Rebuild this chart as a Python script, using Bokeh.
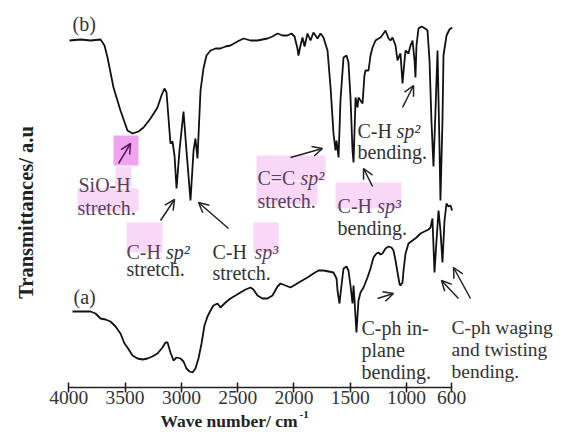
import math
from bokeh.plotting import figure
from bokeh.models import Range1d, LinearAxis, FixedTicker, Label, Arrow, OpenHead
from bokeh.embed import file_html
from bokeh.resources import INLINE

# ---- spectrum (b) : wavenumber (cm-1) and transmittance (a.u.)
b_wn = [3994, 3896, 3807, 3718, 3683, 3656, 3603, 3541, 3479, 3434,
        3381, 3336, 3274, 3212, 3177, 3150, 3132, 3097, 3079, 3061,
        3043, 3017, 2981, 2955, 2919, 2892, 2875, 2857, 2830, 2804,
        2777, 2741, 2697, 2653, 2608, 2564, 2502, 2448, 2386, 2324,
        2280, 2235, 2191, 2146, 2102, 2058, 2022, 1995, 1969, 1960,
        1942, 1924, 1906, 1880, 1853, 1827, 1791, 1764, 1738, 1702,
        1675, 1649, 1631, 1622, 1604, 1587, 1560, 1533, 1516, 1498,
        1480, 1471, 1462, 1453, 1436, 1427, 1409, 1391, 1374, 1365,
        1338, 1320, 1302, 1276, 1249, 1231, 1205, 1187, 1160, 1143,
        1125, 1098, 1080, 1063, 1054, 1036, 1018, 1009, 983, 965,
        947, 929, 921, 912, 894, 867, 850, 823, 814, 796,
        779, 761, 743, 725, 716, 707, 699, 681, 672, 645,
        619, 595]
b_t = [347, 348, 347, 348, 342, 330, 300, 277, 257, 254,
       256, 260, 269, 280, 292, 299, 295, 244, 246, 232,
       199, 237, 276, 237, 187, 237, 249, 229, 297, 319,
       332, 337, 339, 339, 341, 342, 346, 349, 347, 347,
       348, 349, 351, 354, 352, 352, 354, 351, 339, 332,
       342, 350, 341, 354, 347, 355, 349, 354, 350, 337,
       300, 254, 237, 247, 230, 287, 330, 332, 325, 290,
       237, 225, 257, 290, 280, 290, 287, 284, 312, 317,
       317, 332, 340, 347, 349, 350, 354, 357, 349, 347,
       350, 342, 327, 332, 334, 304, 327, 337, 334, 342,
       347, 327, 310, 342, 359, 361, 360, 358, 357, 327,
       267, 221, 277, 337, 287, 237, 187, 267, 332, 352,
       358, 360]

# ---- spectrum (a)
a_wn = [3967, 3896, 3807, 3763, 3718, 3674, 3630, 3585, 3541, 3505,
        3479, 3434, 3390, 3345, 3301, 3257, 3212, 3168, 3141, 3123,
        3097, 3070, 3043, 3008, 2981, 2955, 2928, 2901, 2875, 2848,
        2821, 2795, 2768, 2741, 2715, 2679, 2653, 2608, 2564, 2519,
        2475, 2430, 2386, 2360, 2324, 2280, 2235, 2191, 2146, 2120,
        2075, 2031, 1986, 1942, 1880, 1827, 1782, 1738, 1693, 1649,
        1622, 1613, 1596, 1578, 1560, 1533, 1516, 1498, 1480, 1471,
        1462, 1445, 1427, 1409, 1382, 1347, 1320, 1294, 1267, 1249,
        1231, 1214, 1187, 1160, 1134, 1116, 1098, 1080, 1063, 1054,
        1036, 1027, 1009, 983, 947, 912, 876, 841, 805, 787,
        770, 752, 734, 716, 699, 681, 663, 645, 628, 610, 595]
a_t = [76, 76, 76, 74, 69, 68, 66, 61, 54, 44,
       40, 32, 29, 28, 29, 31, 34, 40, 45, 45,
       35, 27, 30, 29, 26, 19, 16, 15, 19, 29,
       44, 62, 71, 77, 82, 84, 80, 85, 89, 92,
       95, 98, 100, 98, 92, 89, 89, 92, 101, 104,
       102, 100, 103, 106, 110, 114, 117, 117, 116, 115,
       109, 97, 84, 102, 119, 121, 117, 102, 84, 102,
       87, 55, 87, 95, 100, 110, 119, 130, 134, 135,
       133, 134, 139, 141, 140, 137, 127, 115, 104, 102,
       105, 117, 134, 144, 147, 150, 154, 156, 158, 160,
       169, 115, 147, 177, 157, 125, 167, 184, 181, 182, 177]

tick_values = [4000, 3500, 3000, 2500, 2000, 1500, 1000, 600]

# ---- annotations (wavenumber, a.u.)
FONT = "Liberation Serif"
TXT = "#333333"
HL_TXT = "#5a3f5c"
PINK = "#f8d8f6"
PINK2 = "#f0a3ee"

boxes = [  # left_wn, right_wn, bottom, top, color
    (3603, 3381, 222, 252, PINK2),
    (3585, 3443, 201, 221, PINK),
    (3923, 3381, 176, 199, PINK),
    (3488, 3168, 135, 165, PINK),
    (2360, 2137, 135, 165, PINK),
    (2333, 1720, 207, 232, PINK),
    (2333, 1791, 183, 206, PINK),
    (1631, 1045, 179, 205, PINK),
]

texts = [  # text, x, y, style, color, size
    ("(b)", 3967, 364, "normal", TXT, "20px"),
    ("(a)", 3958, 91, "normal", TXT, "20px"),
    ("SiO-H", 3914, 203, "normal", HL_TXT, "20px"),
    ("stretch.", 3923, 180, "normal", HL_TXT, "20px"),
    ("C-H", 3488, 136, "normal", HL_TXT, "20px"),
    ("sp\u00b2", 3137, 136, "italic", TXT, "20px"),
    ("stretch.", 3488, 119, "normal", TXT, "20px"),
    ("C-H", 2724, 136, "normal", TXT, "20px"),
    ("sp\u00b3", 2351, 136, "italic", HL_TXT, "20px"),
    ("stretch.", 2724, 115, "normal", TXT, "20px"),
    ("C=C", 2324, 210, "normal", HL_TXT, "20px"),
    ("sp\u00b2", 1942, 210, "italic", HL_TXT, "20px"),
    ("stretch.", 2324, 187, "normal", HL_TXT, "20px"),
    ("C-H", 1613, 182, "normal", HL_TXT, "20px"),
    ("sp\u00b3", 1261, 182, "italic", HL_TXT, "20px"),
    ("bending.", 1613, 160, "normal", TXT, "20px"),
    ("C-H", 1436, 257, "normal", TXT, "20px"),
    ("sp\u00b2", 1089, 257, "italic", TXT, "20px"),
    ("bending.", 1436, 236, "normal", TXT, "20px"),
    ("C-ph in-", 1400, 60, "normal", TXT, "20px"),
    ("plane", 1400, 38, "normal", TXT, "20px"),
    ("bending.", 1400, 16, "normal", TXT, "20px"),
    ("C-ph waging", 601, 60, "normal", TXT, "19.5px"),
    ("and twisting", 601, 38, "normal", TXT, "19.5px"),
    ("bending.", 601, 16, "normal", TXT, "19.5px"),
]

arrows = [  # x_start, y_start, x_end(head), y_end(head), color
    (3558, 224, 3452, 244, "#5a1a5a"),
    (3185, 167, 3061, 188, "#222222"),
    (2581, 159, 2848, 185, "#222222"),
    (2031, 230, 1747, 239, "#222222"),
    (1302, 201, 1382, 219, "#222222"),
    (1036, 280, 938, 302, "#222222"),
    (1258, 89, 1116, 94, "#222222"),
    (539, 89, 690, 107, "#222222"),
    (432, 89, 583, 120, "#222222"),
]

p = figure(width=553, height=427, output_backend="svg", toolbar_location=None,
           x_range=Range1d(4606.6, -305.1), y_range=Range1d(-40, 387),
           x_axis_location=None, y_axis_location=None, min_border=0)
p.outline_line_color = None
p.background_fill_color = "white"
p.border_fill_color = "white"
for g in p.grid:
    g.visible = False

# highlight boxes
p.patches(xs=[[b[0], b[1], b[1], b[0]] for b in boxes],
          ys=[[b[2], b[2], b[3], b[3]] for b in boxes],
          fill_color=[b[4] for b in boxes], line_color=None)

p.line(b_wn, b_t, line_color="#111111", line_width=1.8)
p.line(a_wn, a_t, line_color="#111111", line_width=1.8)

ax = LinearAxis(ticker=FixedTicker(ticks=tick_values, minor_ticks=[]),
                bounds=(600, 4000), fixed_location=0)
ax.axis_line_color = "#222222"
ax.axis_line_width = 1.6
ax.major_tick_line_color = "#222222"
ax.major_tick_line_width = 1.6
ax.major_tick_in = 5
ax.major_tick_out = 5
ax.major_label_standoff = -2
ax.major_label_text_font = FONT
ax.major_label_text_font_size = "19.5px"
ax.major_label_text_color = "#333333"
p.add_layout(ax, "below")

for (t, x, y, st, col, sz) in texts:
    p.add_layout(Label(x=x, y=y, text=t, text_font=FONT, text_font_size=sz,
                       text_font_style=st, text_color=col,
                       text_align="left", text_baseline="alphabetic"))

for (x0, y0, x1, y1, col) in arrows:
    p.add_layout(Arrow(x_start=x0, y_start=y0, x_end=x1, y_end=y1,
                       line_color=col, line_width=1.5,
                       end=OpenHead(size=10, line_color=col, line_width=1.5)))

# axis titles
p.add_layout(Label(x=3186, y=-33, text="Wave number/ cm", text_font=FONT,
                   text_font_size="17.5px", text_font_style="bold", text_color="#222222",
                   text_align="left", text_baseline="alphabetic"))
p.add_layout(Label(x=1951, y=-27, text="-1", text_font=FONT,
                   text_font_size="11px", text_font_style="bold", text_color="#222222",
                   text_align="left", text_baseline="alphabetic"))
p.add_layout(Label(x=4384, y=175, text="Transmittances/ a.u", text_font=FONT,
                   text_font_size="20.5px", text_font_style="bold", text_color="#222222",
                   text_align="center", text_baseline="middle", angle=math.pi / 2))

open("out.html", "w").write(file_html(p, INLINE))
